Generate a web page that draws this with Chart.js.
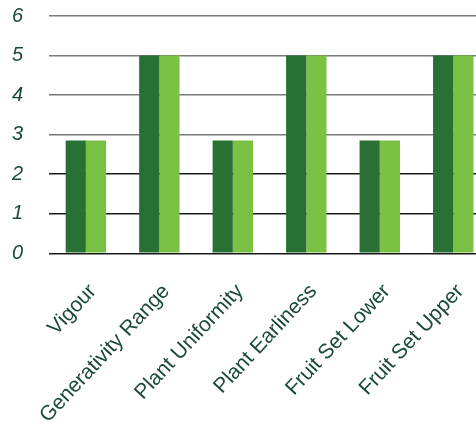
<!DOCTYPE html>
<html>
<head>
<meta charset="utf-8">
<script src="https://cdn.jsdelivr.net/npm/chart.js@4/dist/chart.umd.min.js"></script>
<style>
  html, body { margin: 0; padding: 0; background: #fff; overflow: hidden; }
  #wrap { width: 490px; height: 434px; }
</style>
</head>
<body>
<div id="wrap"><canvas id="chart"></canvas></div>
<script>
// Kategori dan nilai
const categories = ['Vigour', 'Generativity Range', 'Plant Uniformity', 'Plant Earliness', 'Fruit Set Lower', 'Fruit Set Upper'];
const seriesA = [2.85, 5, 2.85, 5, 2.85, 5];
const seriesB = [2.85, 5, 2.85, 5, 2.85, 5];
const yTicks = [0, 1, 2, 3, 4, 5, 6];

const labelColor = '#1b4a37';

new Chart(document.getElementById('chart'), {
  type: 'bar',
  data: {
    labels: categories,
    datasets: [
      { data: seriesA, backgroundColor: '#287033', barPercentage: 1, categoryPercentage: 0.55 },
      { data: seriesB, backgroundColor: '#7bc143', barPercentage: 1, categoryPercentage: 0.55 }
    ]
  },
  options: {
    responsive: true,
    maintainAspectRatio: false,
    animation: false,
    layout: { padding: { top: 0, left: 12, right: 0, bottom: 0 } },
    plugins: { legend: { display: false }, tooltip: { enabled: false } },
    scales: {
      x: {
        grid: { display: false },
        border: { display: false },
        // label agak jauh dari sumbu, area plot tetap
        afterFit: (axis) => { axis.height = axis.height - 12; },
        ticks: {
          color: labelColor,
          font: { family: 'Liberation Sans', size: 21 },
          maxRotation: 47,
          minRotation: 47,
          labelOffset: 7,
          padding: 18
        }
      },
      y: {
        min: 0,
        max: 6,
        afterBuildTicks: (axis) => { axis.ticks = yTicks.map(v => ({ value: v })); },
        // gridline 6 dekat tepi atas
        afterFit: (axis) => { axis.paddingTop = 16; },
        border: { display: false },
        grid: {
          drawTicks: false,
          lineWidth: 1.5,
          color: (ctx) => ctx.tick && ctx.tick.value >= 3 ? '#7a7a7a' : '#1a1a1a'
        },
        ticks: {
          color: labelColor,
          font: { family: 'Liberation Sans', size: 20, style: 'italic' },
          crossAlign: 'far',
          padding: 13
        }
      }
    }
  }
});
</script>
</body>
</html>
